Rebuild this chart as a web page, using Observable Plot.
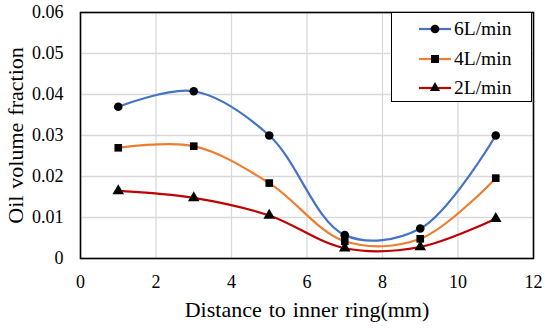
<!DOCTYPE html>
<html><head><meta charset="utf-8">
<script src="https://cdn.jsdelivr.net/npm/d3@7"></script>
<script src="https://cdn.jsdelivr.net/npm/@observablehq/plot@0.6"></script>
<style>
body{margin:0;background:#fff;}
#wrap{position:relative;width:550px;height:328px;font-family:"Liberation Serif","DejaVu Serif",serif;}
#chart svg text{font-family:"Liberation Serif","DejaVu Serif",serif !important;fill:#000;}
#legend{position:absolute;left:391px;top:12px;width:141px;height:90px;border:1.6px solid #000;background:#fff;box-sizing:border-box;}
.row{position:absolute;left:26px;height:30px;display:flex;align-items:center;font-size:19.5px;color:#000;}
.row svg{margin-right:2px;}
</style></head><body>
<div id="wrap"><div id="chart"></div><div id="legend"></div></div>
<script>
const distance = [1, 3, 5, 7, 9, 11];
const series = ["6L/min", "4L/min", "2L/min"];
const flow6 = [0.037, 0.0408, 0.030, 0.0057, 0.0073, 0.030];
const flow4 = [0.027, 0.0274, 0.0184, 0.0042, 0.0048, 0.0196];
const flow2 = [0.0165, 0.0148, 0.0105, 0.0025, 0.0028, 0.0097];
const colors = ["#4472C4", "#ED7D31", "#C00000"];
const symbols = ["circle", "square", "triangle"];
const xTicks = [0, 2, 4, 6, 8, 10, 12];
const yTicks = [0, 0.01, 0.02, 0.03, 0.04, 0.05, 0.06];
const xLabel = "Distance to inner ring(mm)";
const yLabel = "Oil volume fraction";

const values = [flow6, flow4, flow2];
const data = [];
series.forEach((s, i) => distance.forEach((d, j) => data.push({series: s, x: d, y: values[i][j]})));

const chart = Plot.plot({
  width: 550, height: 328,
  marginLeft: 80, marginRight: 17, marginTop: 12, marginBottom: 70,
  style: {fontFamily: "'Liberation Serif', serif", fontSize: "18px", color: "#000", background: "#fff"},
  x: {domain: [0, 12], ticks: xTicks},
  y: {domain: [0, 0.06], ticks: yTicks},
  color: {domain: series, range: colors},
  symbol: {domain: series, range: symbols},
  marks: [
    Plot.gridX(xTicks, {stroke: "#d9d9d9", strokeOpacity: 1, strokeWidth: 1.3}),
    Plot.gridY(yTicks, {stroke: "#d9d9d9", strokeOpacity: 1, strokeWidth: 1.3}),
    Plot.axisX(xTicks, {tickSize: 0, tickPadding: 17, label: xLabel, labelArrow: "none", labelAnchor: "center", labelOffset: 58, fontSize: 18, tickFormat: d => String(d)}),
    Plot.axisY(yTicks, {tickSize: 0, tickPadding: 17, label: yLabel, labelArrow: "none", labelAnchor: "center", labelOffset: 73, fontSize: 18, tickFormat: d => d === 0 ? "0" : d.toFixed(2)}),
    Plot.line(data, {x: "x", y: "y", z: "series", stroke: "series", strokeWidth: 2.2, curve: "catmull-rom"}),
    Plot.dot(data, {x: "x", y: "y", symbol: "series", fill: "#000", r: 4.3}),
    Plot.frame({stroke: "#000", strokeWidth: 1.6})
  ]
});
document.getElementById("chart").appendChild(chart);
chart.querySelectorAll("text").forEach(t => {
  if (t.textContent === xLabel || t.textContent === yLabel) {
    t.setAttribute("font-size", "22");
    t.style.fontSize = "22px";
    t.style.wordSpacing = "1.5px";
  }
});

const legend = document.getElementById("legend");
const symPaths = {circle: d3.symbol(d3.symbolCircle, 60)(), square: d3.symbol(d3.symbolSquare, 64)(), triangle: d3.symbol(d3.symbolTriangle, 45)()};
series.forEach((s, i) => {
  const row = document.createElement("div");
  row.className = "row";
  row.style.top = (1 + i * 29.5) + "px";
  row.innerHTML = `<svg width="34" height="14"><line x1="1" x2="33" y1="7" y2="7" stroke="${colors[i]}" stroke-width="2.2"/><path transform="translate(17,7)" d="${symPaths[symbols[i]]}" fill="#000"/></svg><span>${s}</span>`;
  legend.appendChild(row);
});
</script>
</body></html>
